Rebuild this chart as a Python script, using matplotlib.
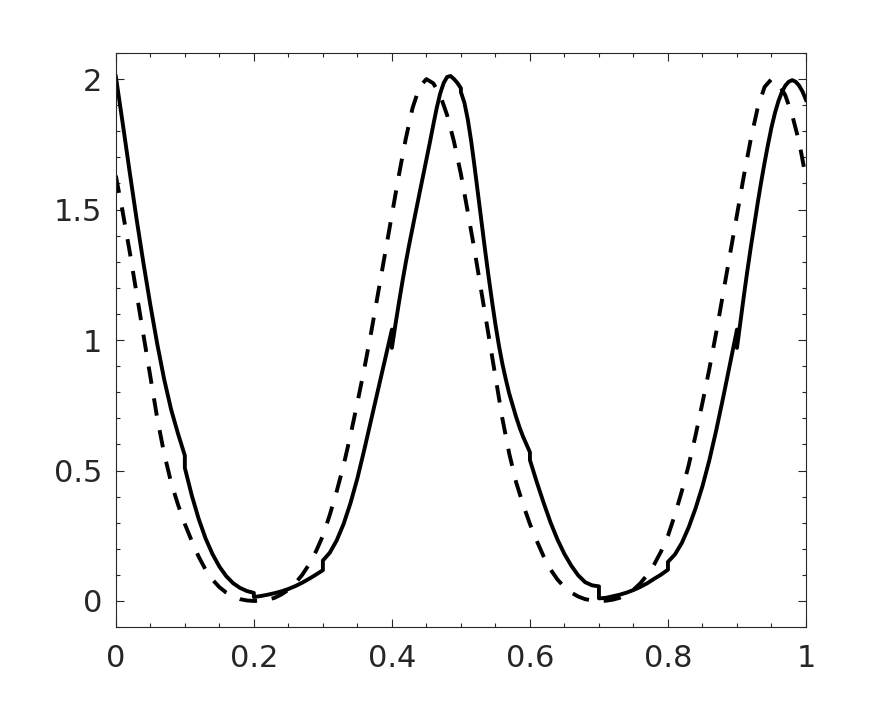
import numpy as np
import matplotlib
matplotlib.use('Agg')
import matplotlib.pyplot as plt
from matplotlib.ticker import MultipleLocator

# exact solution (dashed), sampled every 0.01 on [0, 1]
x_exact = np.round(np.arange(0, 101) * 0.01, 2)
u_exact = [1.630, 1.490, 1.340, 1.180, 1.020, 0.860, 0.700, 0.565, 0.455, 0.370,
           0.295, 0.230, 0.170, 0.120, 0.082, 0.053, 0.032, 0.017, 0.007, 0.002,
           0.000, 0.001, 0.005, 0.012, 0.025, 0.043, 0.068, 0.100, 0.140, 0.190,
           0.250, 0.330, 0.420, 0.520, 0.635, 0.760, 0.890, 1.030, 1.180, 1.330,
           1.480, 1.630, 1.770, 1.890, 1.970, 2.000, 1.984, 1.938, 1.862, 1.760,
           1.636, 1.490, 1.340, 1.180, 1.020, 0.860, 0.700, 0.565, 0.455, 0.370,
           0.295, 0.230, 0.170, 0.120, 0.082, 0.053, 0.032, 0.017, 0.007, 0.002,
           0.000, 0.001, 0.005, 0.012, 0.025, 0.043, 0.068, 0.100, 0.140, 0.190,
           0.250, 0.330, 0.420, 0.520, 0.635, 0.760, 0.890, 1.030, 1.180, 1.330,
           1.480, 1.630, 1.770, 1.890, 1.970, 2.000, 1.984, 1.938, 1.862, 1.760,
           1.620]

# numerical solution (solid), 10 cells, samples evenly spaced inside each cell
cell_left = [0.0, 0.1, 0.2, 0.3, 0.4, 0.5, 0.6, 0.7, 0.8, 0.9]
cell_width = 0.1
u_cells = [
    [2.01, 1.83, 1.645, 1.465, 1.295, 1.135, 0.985, 0.85, 0.735, 0.642, 0.557],
    [0.51, 0.405, 0.315, 0.24, 0.18, 0.132, 0.095, 0.068, 0.05, 0.038, 0.031],
    [0.015, 0.019, 0.024, 0.03, 0.037, 0.046, 0.057, 0.07, 0.085, 0.101, 0.118],
    [0.155, 0.185, 0.232, 0.295, 0.375, 0.47, 0.58, 0.695, 0.81, 0.925, 1.04],
    [0.97, 1.057, 1.14, 1.22, 1.295, 1.365, 1.432, 1.497, 1.562, 1.627, 1.692,
     1.757, 1.825, 1.89, 1.945, 1.985, 2.008, 2.012, 2.0, 1.985, 1.965],
    [1.95, 1.91, 1.845, 1.76, 1.66, 1.555, 1.45, 1.345, 1.245, 1.15, 1.06,
     0.98, 0.91, 0.85, 0.795, 0.75, 0.705, 0.665, 0.63, 0.60, 0.57],
    [0.54, 0.455, 0.375, 0.30, 0.235, 0.18, 0.135, 0.098, 0.072, 0.06, 0.056],
    [0.01, 0.012, 0.018, 0.024, 0.032, 0.042, 0.054, 0.068, 0.085, 0.101, 0.12],
    [0.15, 0.178, 0.222, 0.282, 0.355, 0.44, 0.54, 0.655, 0.78, 0.91, 1.04],
    [0.97, 1.07, 1.17, 1.265, 1.355, 1.44, 1.525, 1.605, 1.68, 1.75, 1.815,
     1.87, 1.915, 1.95, 1.975, 1.99, 1.996, 1.99, 1.975, 1.952, 1.92],
]

xticks = [0, 0.2, 0.4, 0.6, 0.8, 1]
xticklabels = ['0', '0.2', '0.4', '0.6', '0.8', '1']
yticks = [0, 0.5, 1, 1.5, 2]
yticklabels = ['0', '0.5', '1', '1.5', '2']

x_num = []
u_num = []
for left, vals in zip(cell_left, u_cells):
    x_num.extend(np.linspace(left, left + cell_width, len(vals)))
    u_num.extend(vals)

axcol = '#262626'
plt.rcParams['font.family'] = ['DejaVu Sans']

fig = plt.figure(figsize=(8.91, 7.03), dpi=100)
ax = fig.add_axes([0.13, 0.108, 0.7746, 0.8166])

ax.plot(x_num, u_num, color='k', lw=2.8, solid_joinstyle='round')
ax.plot(x_exact, u_exact, color='k', lw=2.8, linestyle=(0, (4.5, 3.8)))

ax.set_xlim(0, 1)
ax.set_ylim(-0.1, 2.1)
ax.set_xticks(xticks)
ax.set_xticklabels(xticklabels)
ax.set_yticks(yticks)
ax.set_yticklabels(yticklabels)
ax.xaxis.set_minor_locator(MultipleLocator(0.05))
ax.yaxis.set_minor_locator(MultipleLocator(0.1))

ax.tick_params(which='both', direction='in', top=True, right=True,
               color=axcol, width=0.8)
ax.tick_params(which='major', length=6)
ax.tick_params(which='minor', length=3)
ax.tick_params(axis='x', which='major', labelsize=22, labelcolor=axcol, pad=12)
ax.tick_params(axis='y', which='major', labelsize=22, labelcolor=axcol, pad=10)
for s in ax.spines.values():
    s.set_color(axcol)
    s.set_linewidth(0.8)

fig.savefig('out.png', dpi=100)
